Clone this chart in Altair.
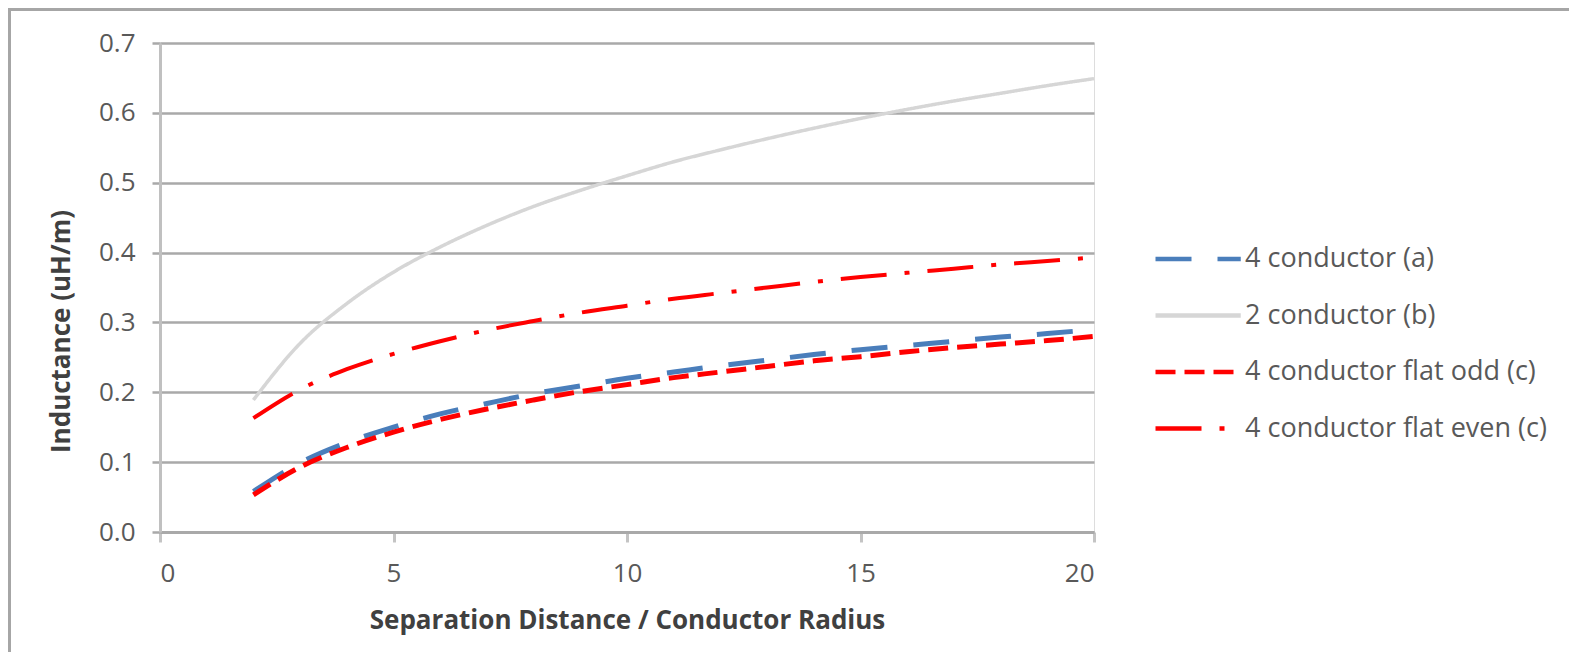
import altair as alt
import pandas as pd

# ---- data ----
x_vals = [2, 3, 4, 5, 6, 7, 8, 9, 10, 11, 12, 13, 14, 15, 16, 17, 18, 19, 20]

four_cond_a = [0.058, 0.099, 0.128, 0.150, 0.169, 0.184, 0.198, 0.209, 0.220, 0.229,
               0.238, 0.246, 0.254, 0.261, 0.267, 0.273, 0.279, 0.284, 0.290]
two_cond_b = [0.189, 0.270, 0.327, 0.372, 0.408, 0.439, 0.466, 0.489, 0.510, 0.530,
              0.547, 0.563, 0.578, 0.592, 0.605, 0.617, 0.628, 0.639, 0.649]
flat_odd_c = [0.053, 0.093, 0.121, 0.143, 0.161, 0.176, 0.189, 0.201, 0.211, 0.221,
              0.229, 0.237, 0.245, 0.251, 0.258, 0.264, 0.269, 0.274, 0.280]
flat_even_c = [0.163, 0.204, 0.233, 0.255, 0.273, 0.289, 0.302, 0.314, 0.324, 0.334,
               0.342, 0.350, 0.358, 0.365, 0.371, 0.377, 0.383, 0.388, 0.393]

series_names = ["4 conductor (a)", "2 conductor (b)",
                "4 conductor flat odd (c)", "4 conductor flat even (c)"]
series_values = [four_cond_a, two_cond_b, flat_odd_c, flat_even_c]

x_ticks = [0, 5, 10, 15, 20]
y_ticks = [0.0, 0.1, 0.2, 0.3, 0.4, 0.5, 0.6, 0.7]

# ---- styles ----
colors = ["#4a7ebb", "#d6d6d6", "#ff0000", "#ff0000"]
dashes = [[36, 26], [1, 0], [20, 9], [46, 18, 5, 18]]
widths = [5, 3.5, 5, 4]

rows = []
for name, vals in zip(series_names, series_values):
    for xv, yv in zip(x_vals, vals):
        rows.append({"series": name, "x": xv, "y": yv})
df = pd.DataFrame(rows)

W, H = 934, 489
PAD_L, PAD_T, PAD_R, PAD_B = 152, 35, 475, 120
FONT = "Open Sans"

legend = alt.Legend(
    title=None, orient="none", legendX=993, legendY=186, padding=0,
    symbolType="M-1,0H2.1", symbolSize=3025, symbolStrokeWidth=4.5,
    labelOffset=32, labelFontSize=27, labelFont=FONT, labelColor="#595959",
    rowPadding=13.5, labelLimit=400,
)

base = alt.Chart(df).encode(
    x=alt.X("x:Q", scale=alt.Scale(domain=[0, 20], nice=False),
            axis=alt.Axis(values=x_ticks, title="Separation Distance / Conductor Radius",
                          grid=False, domainColor="#a9a9a9", domainWidth=3,
                          tickColor="#c4c4c4", tickWidth=3, tickSize=10,
                          labelPadding=18, labelFontSize=26, labelFont=FONT,
                          labelColor="#595959", format="d",
                          titleFont=FONT, titleFontSize=26, titleFontWeight="bold",
                          titleColor="#404040", titleY=88, titleBaseline="middle")),
    y=alt.Y("y:Q", scale=alt.Scale(domain=[0, 0.7], nice=False),
            axis=alt.Axis(values=y_ticks, format=".1f", title="Inductance  (uH/m)",
                          gridColor="#a9a9a9", gridWidth=2.5, domainColor="#c0c0c0",
                          domainWidth=3, tickColor="#a9a9a9", tickWidth=2.5, tickSize=8,
                          labelPadding=17, labelFontSize=26, labelFont=FONT,
                          labelColor="#595959",
                          titleFont=FONT, titleFontSize=26, titleFontWeight="bold",
                          titleColor="#404040", titleAngle=270, titleX=-99, titleY=288,
                          titleAlign="center", titleBaseline="middle")),
    color=alt.Color("series:N", sort=series_names,
                    scale=alt.Scale(domain=series_names, range=colors), legend=legend),
    strokeDash=alt.StrokeDash("series:N", sort=series_names,
                              scale=alt.Scale(domain=series_names, range=dashes),
                              legend=legend),
)

layers = []
for name, w in zip(series_names, widths):
    layers.append(
        base.transform_filter(alt.datum.series == name)
        .mark_line(strokeWidth=w, interpolate="monotone", strokeCap="butt")
    )

border = alt.Chart(pd.DataFrame({"a": [0]})).mark_rect(
    filled=False, stroke="#a6a6a6", strokeWidth=3
).encode(
    x=alt.value(-PAD_L + 1.5), x2=alt.value(W + PAD_R + 20),
    y=alt.value(-PAD_T + 1.5), y2=alt.value(H + PAD_B + 20),
)

chart = alt.layer(border, *layers).properties(
    width=W, height=H,
    autosize=alt.AutoSizeParams(type="none"),
    padding={"left": PAD_L, "top": PAD_T, "right": PAD_R, "bottom": PAD_B},
).configure_view(stroke=None).configure(background="white")

chart.save("out.html", embed_options={"renderer": "svg", "actions": False})
